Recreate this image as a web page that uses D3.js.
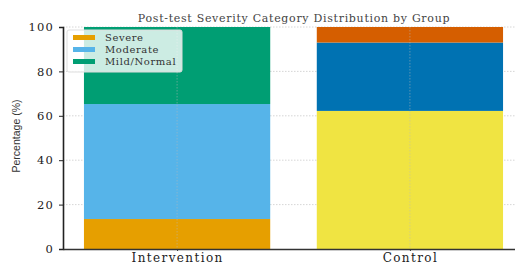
<!DOCTYPE html>
<html>
  <head>
    <style>
      body { margin: 0; background: #fff; }
      .grid line { stroke: #ccc; stroke-dasharray: 1.5,1.5; stroke-width: 0.8; }
    </style>
    <script src="https://d3js.org/d3.v7.min.js"></script>
  </head>
  <body>
    <svg width="515" height="265"></svg>
    <script>
      var groups = ["Intervention", "Control"];
      var categories = ["Severe", "Moderate", "Mild/Normal"];
      var intervention = [13.5, 51.8, 34.7];
      var control = [62.2, 30.8, 7.0];
      var interventionColors = ["#E69F00", "#56B4E9", "#009E73"];
      var controlColors = ["#F0E442", "#0072B2", "#D55E00"];
      var yTicks = [0, 20, 40, 60, 80, 100];

      var svg = d3.select("svg");
      var serif = "'DejaVu Serif', serif";

      var x = d3.scaleLinear().domain([-0.49, 1.49]).range([63, 524]);
      var y = d3.scaleLinear().domain([0, 100]).range([249, 27]);
      var barW = x(0.4) - x(-0.4);

      // grid
      var grid = svg.append("g").attr("class", "grid");
      grid.selectAll(".h").data(yTicks.slice(1)).enter().append("line")
        .attr("x1", 63).attr("x2", 515)
        .attr("y1", function (d) { return y(d); })
        .attr("y2", function (d) { return y(d); });

      var data = [
        { name: groups[0], vals: intervention, colors: interventionColors },
        { name: groups[1], vals: control, colors: controlColors }
      ];

      data.forEach(function (g, gi) {
        var acc = 0;
        g.vals.forEach(function (v, i) {
          svg.append("rect")
            .attr("x", x(gi) - barW / 2)
            .attr("width", barW)
            .attr("y", y(acc + v))
            .attr("height", y(acc) - y(acc + v))
            .attr("fill", g.colors[i]);
          acc += v;
        });
      });

      // vertical grid over bars
      var vgrid = svg.append("g").attr("class", "grid");
      vgrid.selectAll("line").data([0, 1]).enter().append("line")
        .attr("x1", function (d) { return x(d); })
        .attr("x2", function (d) { return x(d); })
        .attr("y1", 27).attr("y2", 249)
        .style("stroke", "#bbb").style("opacity", 0.6);

      // y axis
      var yAxis = svg.append("g")
        .attr("transform", "translate(63,0)")
        .call(d3.axisLeft(y).tickValues(yTicks).tickSize(4).tickPadding(5));
      yAxis.select(".domain").attr("stroke", "#222").attr("stroke-width", 1.6);
      yAxis.selectAll(".tick line").attr("stroke", "#222");
      yAxis.selectAll("text").style("font-family", serif).style("font-size", "11.5px")
        .style("letter-spacing", "1.2px").attr("fill", "#222");

      // x axis
      var xAxis = svg.append("g")
        .attr("transform", "translate(0,249)")
        .call(d3.axisBottom(x).tickValues([0, 1]).tickFormat(function (d) { return groups[d]; }).tickSize(2).tickPadding(2).tickSizeOuter(0));
      xAxis.select(".domain").attr("stroke", "#333").attr("stroke-width", 1.4);
      xAxis.selectAll(".tick line").attr("stroke", "#333");
      xAxis.selectAll("text").style("font-family", serif).style("font-size", "12px")
        .style("letter-spacing", "1.4px").attr("fill", "#222");

      // title
      svg.append("text")
        .attr("x", 294).attr("y", 22)
        .attr("text-anchor", "middle")
        .style("font-family", serif).style("font-size", "11px")
        .style("letter-spacing", "0.7px")
        .attr("fill", "#444")
        .text("Post-test Severity Category Distribution by Group");

      // y label
      svg.append("text")
        .attr("transform", "translate(20,136) rotate(-90)")
        .attr("text-anchor", "middle")
        .style("font-family", "'Liberation Sans Narrow', 'Liberation Sans', sans-serif").style("font-size", "10.5px")
        .attr("fill", "#333")
        .text("Percentage (%)");

      // legend
      var lg = svg.append("g").attr("transform", "translate(67,30)");
      lg.append("rect").attr("width", 115).attr("height", 42).attr("rx", 2)
        .attr("fill", "rgba(255,255,255,0.8)").attr("stroke", "#ddd");
      categories.forEach(function (c, i) {
        lg.append("rect").attr("x", 6).attr("y", 5 + i * 12).attr("width", 22).attr("height", 5)
          .attr("fill", interventionColors[i]);
        lg.append("text").attr("x", 38).attr("y", 11 + i * 12)
          .style("font-family", serif).style("font-size", "10px")
          .style("letter-spacing", "0.6px").attr("fill", "#333")
          .text(c);
      });
    </script>
  </body>
</html>
